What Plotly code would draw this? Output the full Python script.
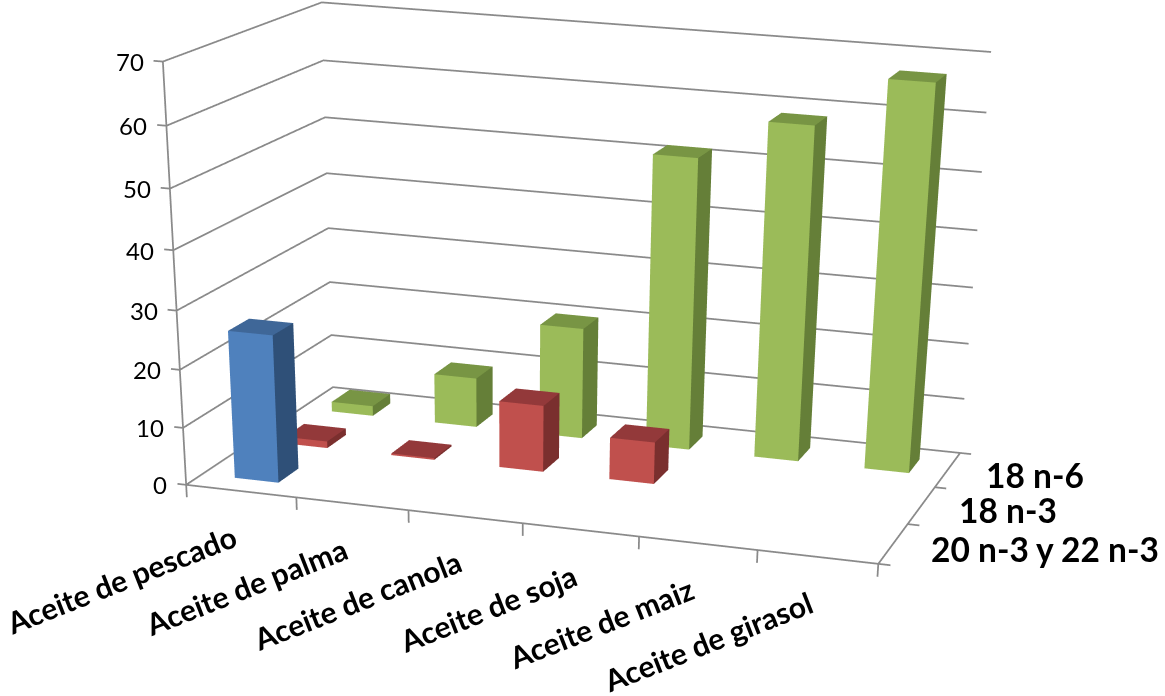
import plotly.graph_objects as go

# Fatty acid content (%) of common oils
categories = ["Aceite de pescado", "Aceite de palma", "Aceite de canola", "Aceite de soja", "Aceite de maiz", "Aceite de girasol"]
series_names = ["20 n-3 y 22 n-3", "18 n-3", "18 n-6"]
long_chain = [25.6, 0, 0, 0, 0, 0]
linolenic = [1.2, 0.3, 11.8, 7.4, 0, 0]
linoleic = [1.8, 9, 20, 51.5, 58.5, 67]
z_ticks = [0, 10, 20, 30, 40, 50, 60, 70]

front_colors = ["#4F81BD", "#C0504D", "#9BBB59"]
top_colors = ["#3F6798", "#93393A", "#789544"]
side_colors = ["#2F5078", "#7A2F2E", "#657F38"]

X_RANGE = (-0.15, 6.15)
Y_RANGE = (-0.02, 3.02)
Z_RANGE = (-2.5, 71.0)

fig = go.Figure()


def add_bars(values, s):
    """One mesh per series; each bar shows its front, right side and top faces."""
    vx, vy, vz, ii, jj, kk, colors = [], [], [], [], [], [], []
    for i, v in enumerate(values):
        if v <= 0:
            continue
        n = len(vx)
        for a in (i + 0.3, i + 0.7):
            for b in (s + 0.3, s + 0.7):
                for h in (0, v):
                    vx.append(a)
                    vy.append(b)
                    vz.append(h)
        faces = [((0, 1, 5, 4), front_colors[s]), ((4, 5, 7, 6), side_colors[s]), ((1, 3, 7, 5), top_colors[s])]
        for quad, col in faces:
            a, b, c, d = [n + t for t in quad]
            ii += [a, a]
            jj += [b, c]
            kk += [c, d]
            colors += [col, col]
    fig.add_trace(go.Mesh3d(
        x=vx, y=vy, z=vz, i=ii, j=jj, k=kk, facecolor=colors, flatshading=True,
        lighting=dict(ambient=1, diffuse=0, specular=0, roughness=1, fresnel=0),
        hoverinfo="skip", showscale=False,
    ))


for s, vals in enumerate([long_chain, linolenic, linoleic]):
    add_bars(vals, s)

# Wall gridlines, axis edges and tick marks
gx, gy, gz = [], [], []


def seg(*pts):
    for p in pts:
        gx.append(p[0])
        gy.append(p[1])
        gz.append(p[2])
    gx.append(None)
    gy.append(None)
    gz.append(None)


for t in z_ticks:
    seg((0, 0, t), (0, 3, t), (6, 3, t))
    seg((-0.08, 0, t), (0, 0, t))
seg((0, 0, 0), (0, 0, 70))
seg((0, 0, 0), (6, 0, 0), (6, 3, 0))
for i in range(len(categories) + 1):
    seg((i, 0, 0), (i, 0, -2.2))
for s in range(len(series_names) + 1):
    seg((6, s, 0), (6.1, s, 0))
fig.add_trace(go.Scatter3d(
    x=gx, y=gy, z=gz, mode="lines", line=dict(color="#8A8A8A", width=3.5),
    hoverinfo="skip", showlegend=False,
))

# Axis labels follow the scene projection, offset in pixels
labels = []
for t in z_ticks:
    labels.append(dict(x=0, y=0, z=t, text=str(t), showarrow=False, xanchor="right", yanchor="middle",
                       xshift=-17, font=dict(family="Lato", size=24, color="#000")))
for i, name in enumerate(categories):
    labels.append(dict(x=i + 0.5, y=0, z=0, text=name, showarrow=False, textangle=-21.5, xanchor="right",
                       yanchor="top", xshift=3, yshift=-24,
                       font=dict(family="Lato", size=30, color="#000", weight=700)))
for s, name in enumerate(series_names):
    labels.append(dict(x=6, y=s + 0.5, z=0, text=name, showarrow=False, xanchor="left", yanchor="middle",
                       xshift=36, yshift=-5, font=dict(family="Lato", size=33.5, color="#000", weight=700)))

hidden = dict(visible=False)
fig.update_layout(
    width=1325, height=2484, margin=dict(l=0, r=0, t=0, b=0), paper_bgcolor="white", showlegend=False,
    scene=dict(
        domain=dict(x=[0, 1], y=[0.00029, 1]), dragmode="orbit",
        xaxis=dict(range=X_RANGE, **hidden), yaxis=dict(range=Y_RANGE, **hidden), zaxis=dict(range=Z_RANGE, **hidden),
        aspectmode="manual", aspectratio=dict(x=1.05, y=0.5701, z=0.5912),
        camera=dict(
            eye=dict(x=1.2740, y=-4.1261, z=0.9716),
            center=dict(x=0.1537, y=0, z=-1.5499),
            up=dict(x=-0.0274, y=0, z=1),
            projection=dict(type="perspective"),
        ),
        annotations=labels,
    ),
)
fig.write_html("out.html")
